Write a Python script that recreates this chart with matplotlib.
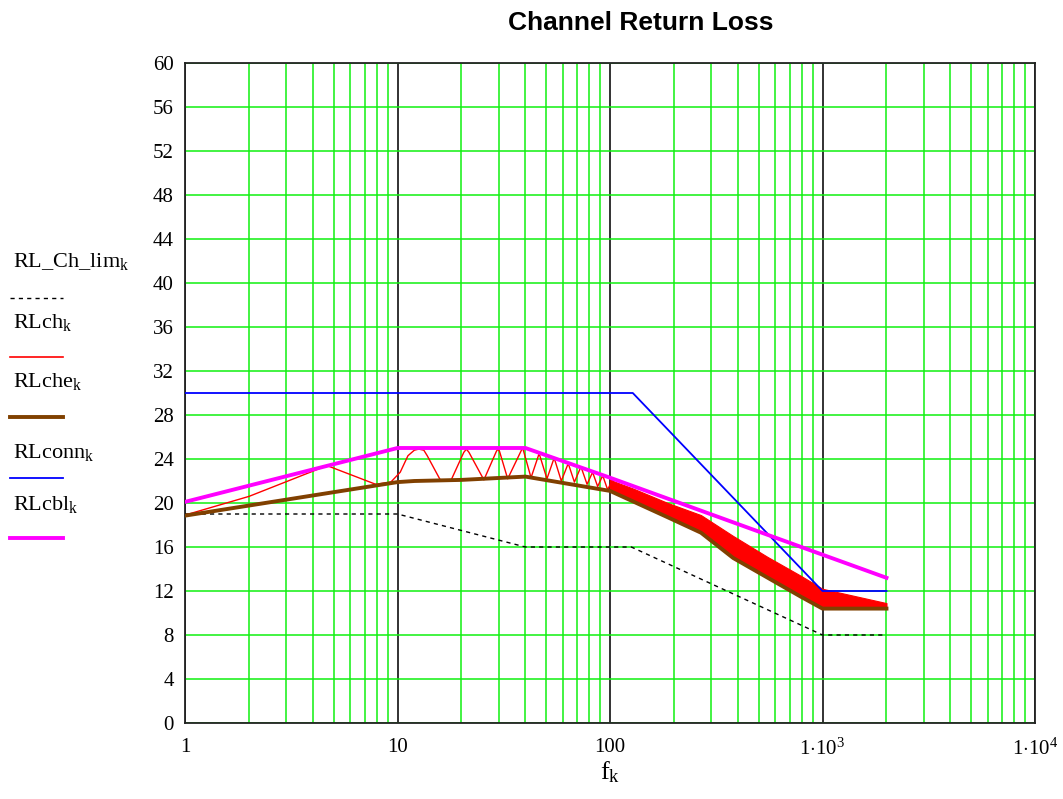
import numpy as np
import matplotlib.pyplot as plt
from matplotlib.lines import Line2D
from matplotlib.ticker import LogLocator, NullFormatter, FixedLocator

plt.rcParams['mathtext.fontset'] = 'custom'
plt.rcParams['mathtext.rm'] = 'Liberation Serif'
plt.rcParams['mathtext.it'] = 'Liberation Serif:italic'

# RL_Ch_lim (limit, dashed)
lim_f = [1, 10, 40, 126, 1000, 2000]
lim_db = [19, 19, 16, 16, 8, 8]

# RLch - channel trace, sparse part (peaks/troughs)
ch_f = [1, 2.0, 4.66, 7.9, 9.3, 10.3, 11.2, 12.0, 12.6, 13.3, 13.8, 15.0, 16.0, 17.8,
        20.5, 21.1, 21.7, 25.5, 29.2, 29.7, 30.2, 33.0, 38.3, 38.7, 39.1, 42.5,
        46.4, 50.5, 54.6, 59, 63.6, 68, 73, 78, 82.8, 87.5, 92.4, 97.5, 103, 108]
ch_db = [18.9, 20.6, 23.4, 21.7, 21.9, 22.8, 24.3, 24.8, 24.9, 24.8, 24.3, 23.0, 22.0, 22.0,
         24.6, 24.9, 24.6, 22.1, 24.7, 24.9, 24.7, 22.2, 24.8, 25.0, 24.8, 22.3,
         24.5, 22.2, 24.1, 22.0, 23.6, 21.9, 23.3, 21.7, 22.8, 21.5, 22.5, 21.2, 22.2, 20.9]
# RLch - dense oscillation above 100, drawn as a band
band_f = [100, 129, 187, 268, 380, 551, 788, 1000, 2000]
band_hi = [22.1, 21.3, 20.0, 18.9, 17.0, 15.1, 13.4, 12.2, 10.9]
band_lo = [21.1, 20.1, 18.7, 17.3, 15.0, 13.2, 11.5, 10.4, 10.4]

# RLche
che_f = [1, 10, 12, 20, 40, 100, 187, 268, 380, 788, 1000, 2000]
che_db = [18.85, 21.9, 22.0, 22.1, 22.4, 21.1, 18.7, 17.3, 15.0, 11.5, 10.4, 10.4]

# RLconn
conn_f = [1, 128, 1000, 2000]
conn_db = [30, 30, 12, 12]

# RLcbl
cbl_f = [1, 10, 40, 100, 1000, 2000]
cbl_db = [20.1, 25, 25, 22.3, 15.3, 13.2]

x_ticks = [1, 10, 100, 1000, 10000]
x_labels = ['1', '10', '100', r'$\mathrm{1{\cdot}10^{3}}$', r'$\mathrm{1{\cdot}10^{4}}$']
y_ticks = list(range(0, 61, 4))

GREEN = '#10f010'
RED = '#ff0000'
BROWN = '#804000'
BLUE = '#0000ff'
MAGENTA = '#ff00ff'

fig = plt.figure(figsize=(10.63, 7.99), dpi=100)
ax = fig.add_axes([185 / 1063, 1 - 723 / 799, 850 / 1063, 660 / 799])

ax.plot(lim_f, lim_db, color='black', lw=1.0, ls=(0, (3, 3)), zorder=3)
ax.plot(ch_f, ch_db, color=RED, lw=1.0, zorder=4)
ax.fill_between(band_f, band_lo, band_hi, color=RED, lw=0.8, edgecolor=RED, zorder=4)
ax.plot(che_f, che_db, color=BROWN, lw=2.8, zorder=5)
ax.plot(conn_f, conn_db, color=BLUE, lw=1.3, zorder=6)
ax.plot(cbl_f, cbl_db, color=MAGENTA, lw=2.8, zorder=7)

ax.set_xscale('log')
ax.set_xlim(1, 1e4)
ax.set_ylim(0, 60)
ax.xaxis.set_major_locator(FixedLocator(x_ticks))
ax.set_xticklabels(x_labels)
ax.xaxis.set_minor_locator(LogLocator(base=10, subs=np.arange(2, 10)))
ax.xaxis.set_minor_formatter(NullFormatter())
ax.set_yticks(y_ticks)

ax.xaxis.grid(True, which='minor', color=GREEN, lw=1.1)
ax.xaxis.grid(True, which='major', color='#222222', lw=1.3)
ax.yaxis.grid(True, which='major', color=GREEN, lw=1.1)
ax.set_axisbelow(True)

ax.tick_params(which='both', length=0)
ax.tick_params(axis='y', pad=8)
ax.tick_params(axis='x', pad=11)
for lab in ax.get_xticklabels() + ax.get_yticklabels():
    lab.set_fontfamily('Liberation Serif')
    lab.set_fontsize(15)
for sp in ax.spines.values():
    sp.set_color('#222222')
    sp.set_linewidth(1.3)

ax.set_xlabel(r'f$_\mathrm{k}$', family='Liberation Serif', fontsize=19, labelpad=0)

fig.text(641 / 1063, 1 - 23 / 799, 'Channel Return Loss', family='Liberation Sans',
         weight='bold', fontsize=19, ha='center', va='center')

# legend, Mathcad style: name above line sample
legend_names = ['RL_Ch_lim', 'RLch', 'RLche', 'RLconn', 'RLcbl']
legend_styles = [dict(color='black', lw=1.0, ls=(0, (3, 3))),
                 dict(color=RED, lw=1.2),
                 dict(color=BROWN, lw=2.8),
                 dict(color=BLUE, lw=1.3),
                 dict(color=MAGENTA, lw=2.8)]
text_y = [267, 328, 387, 458, 510]
line_y = [298, 357, 417, 478, 538]
for name, st, ty, ly in zip(legend_names, legend_styles, text_y, line_y):
    fig.text(13 / 1063, 1 - ty / 799, name + r'$_\mathrm{k}$', family='Liberation Serif',
             fontsize=16, ha='left', va='baseline')
    fig.add_artist(Line2D([10 / 1063, 63 / 1063], [1 - ly / 799] * 2,
                          transform=fig.transFigure, **st))

fig.savefig('out.png', dpi=100)
